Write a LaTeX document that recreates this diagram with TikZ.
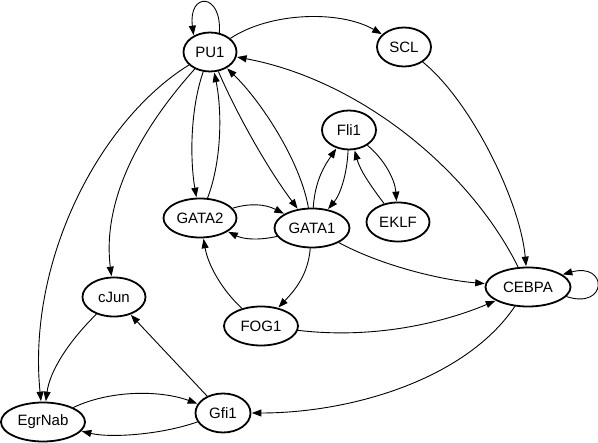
\documentclass[tikz,border=0pt]{standalone}
\usepackage{fontspec}
\setmainfont{Liberation Sans}
\usetikzlibrary{shapes.geometric,arrows.meta}
\tikzset{
  gnode/.style={ellipse, draw=black, line width=1.8pt, inner sep=0pt, minimum height=39pt,
    font=\fontsize{15}{17}\selectfont},
  edge/.style={line width=0.9pt, -{Triangle[length=9.5pt,width=7pt]}, shorten >=0.5pt}
}
\begin{document}
\begin{tikzpicture}[x=1pt,y=-1pt]
\useasboundingbox (0,0) rectangle (598,443);
\node[gnode, minimum width=53pt] (PU1) at (210,52) {PU1};
\node[gnode, minimum width=54pt] (SCL) at (404,47) {SCL};
\node[gnode, minimum width=54pt] (Fli1) at (349,130) {Fli1};
\node[gnode, minimum width=73pt] (GATA2) at (200,218) {GATA2};
\node[gnode, minimum width=75pt] (GATA1) at (312,228) {GATA1};
\node[gnode, minimum width=63pt] (EKLF) at (398,222) {EKLF};
\node[gnode, minimum width=63pt] (cJun) at (114,297) {cJun};
\node[gnode, minimum width=74pt] (FOG1) at (261,326) {FOG1};
\node[gnode, minimum width=84pt] (EgrNab) at (43,422) {EgrNab};
\node[gnode, minimum width=55pt] (Gfi1) at (223,413) {Gfi1};
\node[gnode, minimum width=85pt] (CEBPA) at (528,287) {CEBPA};

% self loops
\draw[edge] (PU1.64) .. controls (222,-8) and (188,-8) .. (PU1.135);
\draw[edge] (CEBPA.-14) .. controls (608,310) and (608,262) .. (CEBPA.20);

\draw[edge] (PU1) .. controls (270,12) and (340,10) .. (SCL);
\draw[edge] (SCL) .. controls (470,100) and (520,200) .. (CEBPA);
\draw[edge] (CEBPA) .. controls (470,170) and (360,80) .. (PU1);
\draw[edge] (PU1) .. controls (190,110) and (190,160) .. (GATA2);
\draw[edge] (GATA2) .. controls (222,160) and (222,110) .. (PU1);
\draw[edge] (PU1) .. controls (235,110) and (265,165) .. (GATA1);
\draw[edge] (GATA1) .. controls (300,160) and (260,100) .. (PU1);
\draw[edge] (PU1) .. controls (140,130) and (102,200) .. (cJun);
\draw[edge] (PU1) .. controls (100,120) and (27,260) .. (EgrNab);
\draw[edge] (cJun) .. controls (70,340) and (50,370) .. (EgrNab);
\draw[edge] (Gfi1) -- (cJun);
\draw[edge] (EgrNab) .. controls (110,390) and (160,390) .. (Gfi1);
\draw[edge] (Gfi1) .. controls (160,435) and (110,438) .. (EgrNab);
\draw[edge] (CEBPA) .. controls (465,380) and (350,413) .. (Gfi1);
\draw[edge] (GATA2) .. controls (250,203) and (265,204) .. (GATA1);
\draw[edge] (GATA1) .. controls (262,240) and (245,240) .. (GATA2);
\draw[edge] (GATA1) .. controls (315,180) and (325,165) .. (Fli1);
\draw[edge] (Fli1) .. controls (347,175) and (340,195) .. (GATA1);
\draw[edge] (Fli1) .. controls (385,160) and (395,180) .. (EKLF);
\draw[edge] (EKLF) .. controls (370,185) and (360,170) .. (Fli1);
\draw[edge] (GATA1) .. controls (380,265) and (440,280) .. (CEBPA);
\draw[edge] (GATA1) .. controls (308,275) and (295,290) .. (FOG1);
\draw[edge] (FOG1) .. controls (222,290) and (208,265) .. (GATA2);
\draw[edge] (FOG1) .. controls (380,340) and (450,320) .. (CEBPA);
\end{tikzpicture}
\end{document}
